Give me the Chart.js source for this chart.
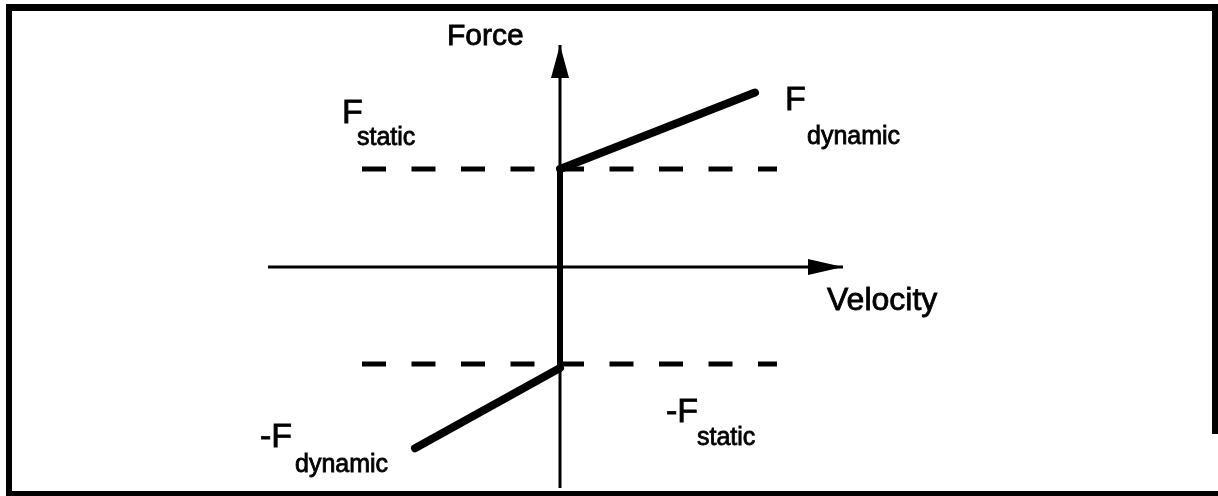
<!DOCTYPE html>
<html>
<head>
<meta charset="utf-8">
<script src="https://cdn.jsdelivr.net/npm/chart.js@4/dist/chart.umd.min.js"></script>
<style>
  body { margin: 0; background: #fff; }
</style>
</head>
<body>
<canvas id="frictionChart" width="1218" height="496"></canvas>
<script>
// values (velocity, force)
const velocityAxis = [-2.92, 2.83];      // start, arrow tip
const forceAxis = [-2.255, 2.265];       // bottom, arrow tip
const staticForce = [1.0, -0.99];        // F static, -F static
const staticDashV = [-1.98, 2.17];
const dynamicUpperV = [0, 1.95];
const dynamicUpperF = [1.0, 1.78];
const dynamicLowerV = [-1.45, 0];
const dynamicLowerF = [-1.85, -1.03];

const pts = (xs, ys) => xs.map((x, i) => ({ x: x, y: ys[i] }));

const labelFont = '"Liberation Sans", Arial, sans-serif';

// text labels placed in data coordinates
const labels = [
  { text: 'Force', x: -1.13, y: 2.265, size: 30 },
  { text: 'Velocity', x: 2.67, y: -0.44, size: 32 },
  { text: 'F', x: -2.18, y: 1.47, size: 34 },
  { text: 'static', x: -2.03, y: 1.245, size: 25 },
  { text: 'F', x: 2.25, y: 1.60, size: 34 },
  { text: 'dynamic', x: 2.47, y: 1.255, size: 25 },
  { text: '-F', x: 1.06, y: -1.58, size: 34 },
  { text: 'static', x: 1.37, y: -1.816, size: 25 },
  { text: '-F', x: -3.0, y: -1.837, size: 34 },
  { text: 'dynamic', x: -2.65, y: -2.09, size: 25 }
];

const frame = {
  id: 'frame',
  afterDraw(chart) {
    const ctx = chart.ctx;
    ctx.save();
    ctx.fillStyle = '#000';
    ctx.fillRect(6, 4, 1212, 7);     // top
    ctx.fillRect(6, 4, 6, 492);      // left
    ctx.fillRect(1212, 4, 6, 430);   // right
    ctx.fillRect(6, 491, 1212, 5);   // bottom
    ctx.restore();
  }
};

const arrows = {
  id: 'arrows',
  afterDatasetsDraw(chart) {
    const ctx = chart.ctx;
    const xs = chart.scales.x, ys = chart.scales.y;
    const ox = xs.getPixelForValue(0), oy = ys.getPixelForValue(0);
    ctx.save();
    ctx.fillStyle = '#000';
    ctx.strokeStyle = '#000';
    // force axis, pointing up
    let tx = ox, ty = ys.getPixelForValue(forceAxis[1]);
    ctx.beginPath();
    ctx.moveTo(tx, ty);
    ctx.lineTo(tx - 9, ty + 33);
    ctx.lineTo(tx + 9, ty + 33);
    ctx.closePath();
    ctx.fill();
    // velocity axis, pointing right
    tx = xs.getPixelForValue(velocityAxis[1]); ty = oy;
    ctx.beginPath();
    ctx.moveTo(tx, ty);
    ctx.lineTo(tx - 35, ty - 8);
    ctx.lineTo(tx - 35, ty + 8);
    ctx.closePath();
    ctx.fill();

    ctx.textBaseline = 'alphabetic';
    ctx.textAlign = 'left';
    ctx.lineWidth = 0.8;
    labels.forEach(l => {
      ctx.font = l.size + 'px ' + labelFont;
      const px = xs.getPixelForValue(l.x), py = ys.getPixelForValue(l.y);
      ctx.fillText(l.text, px, py);
      ctx.strokeText(l.text, px, py);
    });
    ctx.restore();
  }
};

const line = (data, width, extra) => Object.assign({
  data: data,
  showLine: true,
  pointRadius: 0,
  borderColor: '#000',
  backgroundColor: '#000',
  borderWidth: width,
  borderCapStyle: 'round',
  tension: 0
}, extra || {});

new Chart(document.getElementById('frictionChart'), {
  type: 'scatter',
  data: {
    datasets: [
      line(pts(velocityAxis, [0, 0]), 3, { borderCapStyle: 'butt' }),
      line(pts([0, 0], forceAxis), 3, { borderCapStyle: 'butt' }),
      line(pts(staticDashV, [staticForce[0], staticForce[0]]), 5, { borderDash: [24, 25.5], borderCapStyle: 'butt' }),
      line(pts(staticDashV, [staticForce[1], staticForce[1]]), 5, { borderDash: [24, 25.5], borderCapStyle: 'butt' }),
      line(pts([0, 0], staticForce), 6),
      line(pts(dynamicUpperV, dynamicUpperF), 8),
      line(pts(dynamicLowerV, dynamicLowerF), 8)
    ]
  },
  options: {
    responsive: false,
    animation: false,
    layout: { padding: 0 },
    plugins: {
      legend: { display: false },
      tooltip: { enabled: false }
    },
    scales: {
      x: { type: 'linear', display: false, min: -5.6, max: 6.58 },
      y: { type: 'linear', display: false, min: -2.337, max: 2.724 }
    }
  },
  plugins: [frame, arrows]
});
</script>
</body>
</html>
